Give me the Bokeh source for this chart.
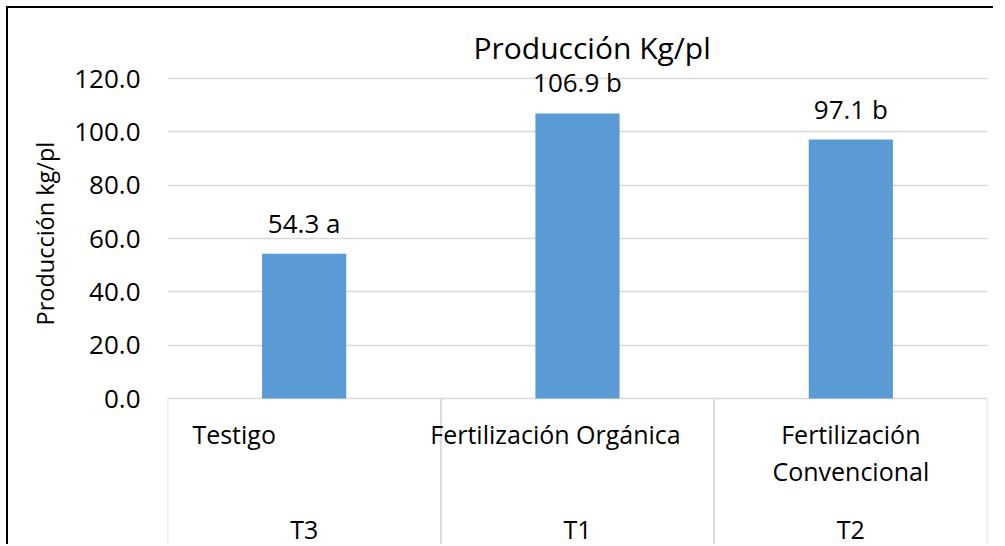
from bokeh.plotting import figure
from bokeh.models import Range1d, FactorRange, FixedTicker, NumeralTickFormatter, ColumnDataSource, Title
from bokeh.transform import dodge
from bokeh.core.properties import value
from bokeh.embed import file_html
from bokeh.resources import INLINE

# ---------------- data ----------------
categories = ["Testigo", "Fertilización Orgánica", "Fertilización Convencional"]
category_labels = ["Testigo", "Fertilización Orgánica", "Fertilización\nConvencional"]
treatments = ["T3", "T1", "T2"]
production = [54.3, 106.9, 97.1]
letters = ["a", "b", "b"]
y_ticks = [0, 20, 40, 60, 80, 100, 120]

# ---------------- style ----------------
FONT = "Open Sans"
BAR = "#5B9BD5"
GRID = "#D9D9D9"
label_shift = [-70, -22, 0]

src = ColumnDataSource(dict(
    cat=categories,
    label=category_labels,
    trt=treatments,
    val=production,
    vlabel=[f"{v:.1f} {l}" for v, l in zip(production, letters)],
    shift=label_shift,
))

p = figure(
    width=987, height=538,
    x_range=FactorRange(factors=categories, range_padding=0),
    y_range=Range1d(-55.5, 123),
    output_backend="svg", toolbar_location=None,
    x_axis_location=None,
    min_border_left=159, min_border_right=8, min_border_top=62, min_border_bottom=0,
    title="Producción Kg/pl",
    styles={"border-top": "2px solid black", "border-left": "2px solid black"},
)
p.margin = (6, 0, 0, 6)
p.outline_line_color = None
p.background_fill_color = "white"
p.border_fill_color = "white"

p.title.text_font = FONT
p.title.text_font_size = "30px"
p.title.text_font_style = "normal"
p.title.text_color = "black"
p.title.align = "left"
p.title.offset = 306
p.title.standoff = 6

ax = p.yaxis[0]
ax.ticker = FixedTicker(ticks=y_ticks)
ax.formatter = NumeralTickFormatter(format="0.0")
ax.axis_line_color = None
ax.major_tick_line_color = None
ax.minor_tick_line_color = None
ax.major_tick_out = 0
ax.major_tick_in = 0
ax.major_label_standoff = 27
ax.major_label_text_font = FONT
ax.major_label_text_font_size = "26px"
ax.major_label_text_color = "black"

# y-axis title, centred on the 0-120 value region
ytitle = Title(text="Producción kg/pl", align="left", offset=221, standoff=22,
               text_font=FONT, text_font_size="23.5px", text_font_style="normal",
               text_color="black")
p.add_layout(ytitle, "left")

p.ygrid.ticker = FixedTicker(ticks=y_ticks)
p.ygrid.grid_line_color = GRID
p.ygrid.grid_line_width = 1.5
for g in p.xgrid:
    g.visible = False

# category separators
for side in (-0.5, 0.5):
    p.segment(x0=dodge("cat", side, range=p.x_range), y0=0,
              x1=dodge("cat", side, range=p.x_range), y1=-60,
              source=src, line_color=GRID, line_width=1.5)

p.vbar(x="cat", top="val", width=0.308, source=src, fill_color=BAR, line_color=None)

p.text(x="cat", y="val", text="vlabel", source=src, y_offset=-31,
       text_align="center", text_baseline="alphabetic",
       text_font=value(FONT), text_font_size="26px", text_color="black")

p.text(x="cat", y=0, text="label", source=src, x_offset="shift", y_offset=18,
       text_align="center", text_baseline="top", text_line_height=1.10,
       text_font=value(FONT), text_font_size="25px", text_color="black")

p.text(x="cat", y=0, text="trt", source=src, y_offset=130,
       text_align="center", text_baseline="alphabetic",
       text_font=value(FONT), text_font_size="25px", text_color="black")

open("out.html", "w").write(file_html(p, INLINE))
